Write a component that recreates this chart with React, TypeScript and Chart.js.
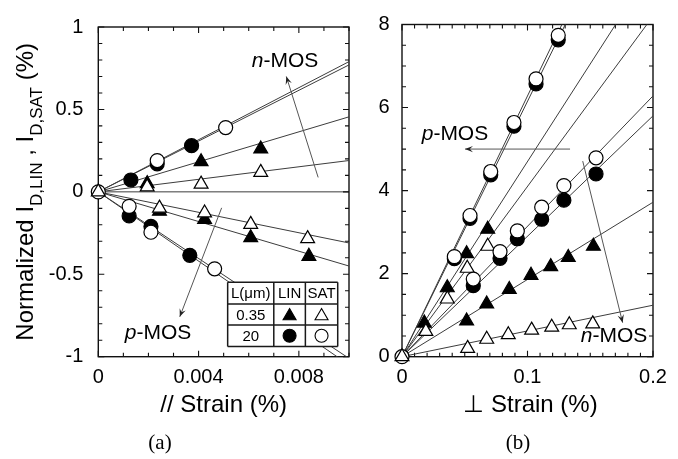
import React, { useEffect, useRef } from 'react';
import { Chart, registerables } from 'chart.js';

Chart.register(...registerables);

type P = [number, number];

const FONT = "'Liberation Sans', Arial, Helvetica, sans-serif";
const SERIF = "'Liberation Serif', 'Times New Roman', serif";

// ---------------- Panel (a): parallel strain ----------------
const aXRange: P = [0, 0.01];
const aYRange: P = [-1, 1];
const aXTickValues = [0, 0.004, 0.008];
const aXTickLabels = ['0', '0.004', '0.008'];
const aYTickValues = [-1, -0.5, 0, 0.5, 1];
const aYTickLabels = ['-1', '-0.5', '0', '0.5', '1'];
const aXMinorStep = 0.001;
const aYMinorStep = 0.1;
const aReferenceLevels = [0];

const aOrigin: P[] = [[0, 0]];
// n-MOS (positive response)
const aNmosLinCircles: P[] = [[0.0013, 0.072], [0.00235, 0.17], [0.00372, 0.28]];
const aNmosSatCircles: P[] = [[0.00235, 0.19], [0.00508, 0.39]];
const aNmosLinTriangles: P[] = [[0.00195, 0.05], [0.0041, 0.183], [0.00648, 0.26]];
const aNmosSatTriangles: P[] = [[0.00195, 0.03], [0.0041, 0.047], [0.00648, 0.118]];
// p-MOS (negative response)
const aPmosLinCircles: P[] = [[0.00123, -0.146], [0.0021, -0.21], [0.00365, -0.385]];
const aPmosSatCircles: P[] = [[0.00123, -0.088], [0.0021, -0.245], [0.00464, -0.467]];
const aPmosLinTriangles: P[] = [[0.00244, -0.117], [0.00424, -0.167], [0.00608, -0.278], [0.0084, -0.391]];
const aPmosSatTriangles: P[] = [[0.00244, -0.099], [0.00424, -0.128], [0.00608, -0.197], [0.00835, -0.284]];
// fitted slopes (% per % strain), lines from the origin
const aFitSlopes = [79, 77, 45.5, 19, -31, -45, -101, -105];

const aArrowN: P[] = [[0.00877, 0.0875], [0.0075, 0.7]];
const aArrowP: P[] = [[0.00492, -0.097], [0.00325, -0.758]];
const aLabelN: P = [0.00745, 0.79];
const aLabelP: P = [0.00238, -0.856];

const aTableColEdges = [0.00516, 0.007, 0.00826, 0.00955];
const aTableRowEdges = [-0.548, -0.681, -0.807, -0.938];
const aTableHeader = ['L(\u03bcm)', 'LIN', 'SAT'];
const aTableRowLabels = ['0.35', '20'];

const aXTitle = '// Strain (%)';
const aYTitleParts: [string, boolean][] = [
  ['Normalized I', false],
  ['D,LIN', true],
  [' , I', false],
  ['D,SAT', true],
  [' (%)', false],
];
const aCaption = '(a)';

// ---------------- Panel (b): perpendicular strain ----------------
const bXRange: P = [0, 0.2];
const bYRange: P = [0, 8];
const bXTickValues = [0, 0.1, 0.2];
const bXTickLabels = ['0', '0.1', '0.2'];
const bYTickValues = [0, 2, 4, 6, 8];
const bYTickLabels = ['0', '2', '4', '6', '8'];
const bXMinorStep = 0.01;
const bYMinorStep = 0.5;

const bOrigin: P[] = [[0, 0]];
// p-MOS
const bPmosSatCircles: P[] = [[0.0417, 2.41], [0.0542, 3.4], [0.0707, 4.46], [0.0892, 5.64], [0.1068, 6.69], [0.1245, 7.74]];
const bPmosLinCircles: P[] = [[0.0417, 2.36], [0.0542, 3.33], [0.0707, 4.38], [0.0892, 5.55], [0.1068, 6.57], [0.1245, 7.63]];
const bPmosLinTriangles: P[] = [[0.0178, 0.81], [0.0361, 1.66], [0.0515, 2.48], [0.0683, 3.07]];
const bPmosSatTriangles: P[] = [[0.019, 0.61], [0.0361, 1.39], [0.052, 2.13], [0.0683, 2.66]];
// n-MOS
const bNmosSatCircles: P[] = [[0.0568, 1.87], [0.0781, 2.53], [0.0919, 3.03], [0.1113, 3.6], [0.129, 4.12], [0.1546, 4.79]];
const bNmosLinCircles: P[] = [[0.0568, 1.71], [0.0781, 2.37], [0.0919, 2.84], [0.1113, 3.31], [0.129, 3.77], [0.1546, 4.4]];
const bNmosLinTriangles: P[] = [[0.0515, 0.86], [0.0675, 1.27], [0.0855, 1.62], [0.1028, 1.96], [0.1185, 2.17], [0.1325, 2.39], [0.1525, 2.66]];
const bNmosSatTriangles: P[] = [[0.0523, 0.2], [0.0675, 0.42], [0.0847, 0.53], [0.1033, 0.64], [0.1193, 0.71], [0.1333, 0.77], [0.152, 0.79]];
const bFitSlopes = [62.8, 61.5, 47, 41, 31.4, 29, 18.6, 6.2];

const bArrowP: P[] = [[0.1339, 5.0], [0.0502, 5.0]];
const bArrowN: P[] = [[0.144, 4.71], [0.1758, 0.82]];
const bLabelP: P = [0.0422, 5.36];
const bLabelN: P = [0.169, 0.5];

const bXTitle = '\u22a5 Strain (%)';
const bCaption = '(b)';

// ---------------- helpers ----------------
const steps = (min: number, max: number, step: number) => {
  const n = Math.round((max - min) / step);
  return Array.from({ length: n + 1 }, (_, i) => min + i * step);
};
const near = (a: number, b: number, span: number) => Math.abs(a - b) < span * 1e-6;
const labelFor = (v: number, vals: number[], labels: string[], span: number) => {
  const i = vals.findIndex((t) => near(t, v, span));
  return i >= 0 ? labels[i] : '';
};

function makeScale(
  axis: 'x' | 'y',
  range: P,
  minorStep: number,
  vals: number[],
  labels: string[],
  fitSize: number,
  padding: number
) {
  const span = range[1] - range[0];
  const all = steps(range[0], range[1], minorStep);
  return {
    type: 'linear' as const,
    min: range[0],
    max: range[1],
    afterBuildTicks: (s: any) => {
      s.ticks = all.map((v) => ({ value: v }));
    },
    afterFit: (s: any) => {
      if (axis === 'x') s.height = fitSize;
      else s.width = fitSize;
    },
    grid: { display: false, drawTicks: false },
    border: { display: false },
    ticks: {
      autoSkip: false,
      maxRotation: 0,
      padding,
      color: '#000',
      font: { family: FONT, size: 20 },
      callback: (v: any) => labelFor(Number(v), vals, labels, span),
    },
  };
}

const pts = (arr: P[]) => arr.map(([x, y]) => ({ x, y }));

function markerDs(arr: P[], style: 'circle' | 'triangle', filled: boolean, order: number) {
  return {
    data: pts(arr),
    showLine: false,
    pointStyle: style,
    pointRadius: style === 'circle' ? 7 : 8,
    pointHoverRadius: style === 'circle' ? 7 : 8,
    pointBackgroundColor: filled ? '#000' : '#fff',
    pointBorderColor: '#000',
    pointBorderWidth: 1.2,
    clip: false as any,
    order,
  };
}

function fitDs(slope: number, xmax: number) {
  return {
    data: [
      { x: 0, y: 0 },
      { x: xmax, y: slope * xmax },
    ],
    showLine: true,
    pointRadius: 0,
    pointHoverRadius: 0,
    borderColor: '#3c3c3c',
    borderWidth: 1,
    fill: false,
    tension: 0,
    order: 10,
  };
}

function drawFrame(chart: any, xVals: number[], yVals: number[], refLevels: number[]) {
  const { ctx, chartArea: a, scales } = chart;
  const x = scales.x;
  const y = scales.y;
  const xs = x.max - x.min;
  const ys = y.max - y.min;
  ctx.save();
  ctx.strokeStyle = '#3c3c3c';
  ctx.lineWidth = 1;
  for (const r of refLevels) {
    const py = y.getPixelForValue(r);
    ctx.beginPath();
    ctx.moveTo(a.left, py);
    ctx.lineTo(a.right, py);
    ctx.stroke();
  }
  ctx.strokeStyle = '#111';
  ctx.lineWidth = 1.1;
  ctx.beginPath();
  for (const t of x.ticks) {
    const px = x.getPixelForValue(t.value);
    const len = xVals.some((v) => near(v, t.value, xs)) ? 6 : 4;
    ctx.moveTo(px, a.bottom);
    ctx.lineTo(px, a.bottom - len);
    ctx.moveTo(px, a.top);
    ctx.lineTo(px, a.top + len);
  }
  for (const t of y.ticks) {
    const py = y.getPixelForValue(t.value);
    const len = yVals.some((v) => near(v, t.value, ys)) ? 6 : 4;
    ctx.moveTo(a.left, py);
    ctx.lineTo(a.left + len, py);
    ctx.moveTo(a.right, py);
    ctx.lineTo(a.right - len, py);
  }
  ctx.stroke();
  ctx.lineWidth = 1.4;
  ctx.strokeRect(a.left, a.top, a.right - a.left, a.bottom - a.top);
  ctx.restore();
}

function drawArrow(chart: any, arrow: P[]) {
  const { ctx, scales } = chart;
  const x1 = scales.x.getPixelForValue(arrow[0][0]);
  const y1 = scales.y.getPixelForValue(arrow[0][1]);
  const x2 = scales.x.getPixelForValue(arrow[1][0]);
  const y2 = scales.y.getPixelForValue(arrow[1][1]);
  const ang = Math.atan2(y2 - y1, x2 - x1);
  ctx.save();
  ctx.strokeStyle = '#555';
  ctx.fillStyle = '#222';
  ctx.lineWidth = 1;
  ctx.beginPath();
  ctx.moveTo(x1, y1);
  ctx.lineTo(x2, y2);
  ctx.stroke();
  const L = 8;
  const W = 3.2;
  ctx.beginPath();
  ctx.moveTo(x2, y2);
  ctx.lineTo(x2 - L * Math.cos(ang) + W * Math.sin(ang), y2 - L * Math.sin(ang) - W * Math.cos(ang));
  ctx.lineTo(x2 - L * 0.6 * Math.cos(ang), y2 - L * 0.6 * Math.sin(ang));
  ctx.lineTo(x2 - L * Math.cos(ang) - W * Math.sin(ang), y2 - L * Math.sin(ang) + W * Math.cos(ang));
  ctx.closePath();
  ctx.fill();
  ctx.restore();
}

function drawMosLabel(chart: any, pos: P, italic: string, rest: string) {
  const { ctx, scales } = chart;
  const cx = scales.x.getPixelForValue(pos[0]);
  const cy = scales.y.getPixelForValue(pos[1]);
  ctx.save();
  ctx.fillStyle = '#000';
  ctx.textBaseline = 'middle';
  ctx.textAlign = 'left';
  ctx.font = `italic 21px ${FONT}`;
  const w1 = ctx.measureText(italic).width;
  ctx.font = `21px ${FONT}`;
  const w2 = ctx.measureText(rest).width;
  let x = cx - (w1 + w2) / 2;
  ctx.font = `italic 21px ${FONT}`;
  ctx.fillText(italic, x, cy);
  ctx.font = `21px ${FONT}`;
  ctx.fillText(rest, x + w1, cy);
  ctx.restore();
}

function drawMarker(ctx: CanvasRenderingContext2D, style: string, filled: boolean, x: number, y: number, r: number) {
  ctx.beginPath();
  if (style === 'circle') {
    ctx.arc(x, y, r, 0, Math.PI * 2);
  } else {
    for (let i = 0; i < 3; i++) {
      const ang = (i * 2 * Math.PI) / 3;
      const px = x + Math.sin(ang) * r;
      const py = y - Math.cos(ang) * r;
      if (i === 0) ctx.moveTo(px, py);
      else ctx.lineTo(px, py);
    }
    ctx.closePath();
  }
  ctx.fillStyle = filled ? '#000' : '#fff';
  ctx.fill();
  ctx.strokeStyle = '#000';
  ctx.lineWidth = 1.1;
  ctx.stroke();
}

function drawTable(chart: any) {
  const { ctx, scales } = chart;
  const xs = aTableColEdges.map((v) => scales.x.getPixelForValue(v));
  const ys = aTableRowEdges.map((v) => scales.y.getPixelForValue(v));
  ctx.save();
  ctx.fillStyle = '#fff';
  ctx.fillRect(xs[0], ys[0], xs[3] - xs[0], ys[3] - ys[0]);
  ctx.strokeStyle = '#1a1a1a';
  ctx.lineWidth = 1.5;
  ctx.beginPath();
  for (const x of xs) {
    ctx.moveTo(x, ys[0]);
    ctx.lineTo(x, ys[3]);
  }
  for (const y of ys) {
    ctx.moveTo(xs[0], y);
    ctx.lineTo(xs[3], y);
  }
  ctx.stroke();
  ctx.fillStyle = '#000';
  ctx.font = `15px ${FONT}`;
  ctx.textAlign = 'center';
  ctx.textBaseline = 'middle';
  const cxs = [0, 1, 2].map((i) => (xs[i] + xs[i + 1]) / 2);
  const cys = [0, 1, 2].map((i) => (ys[i] + ys[i + 1]) / 2);
  aTableHeader.forEach((t, i) => ctx.fillText(t, cxs[i], cys[0] + 1));
  aTableRowLabels.forEach((t, i) => {
    ctx.fillStyle = '#000';
    ctx.fillText(t, cxs[0], cys[i + 1] + 1);
  });
  drawMarker(ctx, 'triangle', true, cxs[1], cys[1] + 1.5, 7.5);
  drawMarker(ctx, 'triangle', false, cxs[2], cys[1] + 1.5, 7.5);
  drawMarker(ctx, 'circle', true, cxs[1], cys[2], 6.5);
  drawMarker(ctx, 'circle', false, cxs[2], cys[2], 6.5);
  ctx.restore();
}

function drawXTitleAndCaption(chart: any, title: string, dx: number, caption: string, capX: number) {
  const { ctx, chartArea: a } = chart;
  ctx.save();
  ctx.fillStyle = '#000';
  ctx.textAlign = 'center';
  ctx.textBaseline = 'middle';
  ctx.font = `24px ${FONT}`;
  ctx.fillText(title, (a.left + a.right) / 2 + dx, a.bottom + 49);
  ctx.font = `21px ${SERIF}`;
  ctx.fillText(caption, capX, a.bottom + 87);
  ctx.restore();
}

function drawYTitle(chart: any) {
  const { ctx, chartArea: a } = chart;
  const cy = (a.top + a.bottom) / 2;
  ctx.save();
  ctx.translate(33, cy);
  ctx.rotate(-Math.PI / 2);
  ctx.fillStyle = '#000';
  ctx.textAlign = 'left';
  ctx.textBaseline = 'alphabetic';
  const fontOf = (sub: boolean) => `${sub ? 17 : 24}px ${FONT}`;
  let total = 0;
  for (const [t, sub] of aYTitleParts) {
    ctx.font = fontOf(sub);
    total += ctx.measureText(t).width;
  }
  let x = -total / 2;
  for (const [t, sub] of aYTitleParts) {
    ctx.font = fontOf(sub);
    ctx.fillText(t, x, sub ? 9 : 0);
    x += ctx.measureText(t).width;
  }
  ctx.restore();
}

function baseOptions(padding: any, scales: any, plugins: any) {
  return {
    animation: false as const,
    responsive: false,
    maintainAspectRatio: false,
    devicePixelRatio: 1,
    events: [] as any[],
    layout: { padding },
    plugins: { legend: { display: false }, tooltip: { enabled: false }, ...plugins },
    scales,
  };
}

function configA(): any {
  const xmax = aXRange[1];
  return {
    type: 'scatter',
    data: {
      datasets: [
        ...aFitSlopes.map((s) => fitDs(s, xmax)),
        markerDs(aNmosLinCircles, 'circle', true, 5),
        markerDs(aPmosLinCircles, 'circle', true, 5),
        markerDs(aNmosLinTriangles, 'triangle', true, 5),
        markerDs(aPmosLinTriangles, 'triangle', true, 5),
        markerDs(aNmosSatCircles, 'circle', false, 2),
        markerDs(aPmosSatCircles, 'circle', false, 2),
        markerDs(aNmosSatTriangles, 'triangle', false, 2),
        markerDs(aPmosSatTriangles, 'triangle', false, 2),
        markerDs(aOrigin, 'circle', false, 1),
        markerDs(aOrigin, 'triangle', false, 0),
      ],
    },
    options: baseOptions(
      { left: 0, top: 12.5, right: 11, bottom: 0 },
      {
        x: makeScale('x', aXRange, aXMinorStep, aXTickValues, aXTickLabels, 102.3, 9),
        y: makeScale('y', aYRange, aYMinorStep, aYTickValues, aYTickLabels, 98.3, 15),
      },
      {}
    ),
    plugins: [
      {
        id: 'frameA',
        beforeDatasetsDraw: (c: any) => drawFrame(c, aXTickValues, aYTickValues, aReferenceLevels),
        afterDatasetsDraw: (c: any) => {
          drawArrow(c, aArrowN);
          drawArrow(c, aArrowP);
          drawMosLabel(c, aLabelN, 'n', '-MOS');
          drawMosLabel(c, aLabelP, 'p', '-MOS');
          drawTable(c);
          drawXTitleAndCaption(c, aXTitle, 0, aCaption, 160);
          drawYTitle(c);
        },
      },
    ],
  };
}

function configB(): any {
  const xmax = bXRange[1];
  return {
    type: 'scatter',
    data: {
      datasets: [
        ...bFitSlopes.map((s) => fitDs(s, xmax)),
        markerDs(bPmosLinCircles, 'circle', true, 5),
        markerDs(bNmosLinCircles, 'circle', true, 5),
        markerDs(bPmosLinTriangles, 'triangle', true, 5),
        markerDs(bNmosLinTriangles, 'triangle', true, 5),
        markerDs(bPmosSatCircles, 'circle', false, 2),
        markerDs(bNmosSatCircles, 'circle', false, 2),
        markerDs(bPmosSatTriangles, 'triangle', false, 2),
        markerDs(bNmosSatTriangles, 'triangle', false, 2),
        markerDs(bOrigin, 'circle', false, 1),
        markerDs(bOrigin, 'triangle', false, 0),
      ],
    },
    options: baseOptions(
      { left: 0, top: 14, right: 25, bottom: 0 },
      {
        x: makeScale('x', bXRange, bXMinorStep, bXTickValues, bXTickLabels, 102.3, 9),
        y: makeScale('y', bYRange, bYMinorStep, bYTickValues, bYTickLabels, 42, 12.5),
      },
      {}
    ),
    plugins: [
      {
        id: 'frameB',
        beforeDatasetsDraw: (c: any) => drawFrame(c, bXTickValues, bYTickValues, []),
        afterDatasetsDraw: (c: any) => {
          drawArrow(c, bArrowP);
          drawArrow(c, bArrowN);
          drawMosLabel(c, bLabelP, 'p', '-MOS');
          drawMosLabel(c, bLabelN, 'n', '-MOS');
          drawXTitleAndCaption(c, bXTitle, 3, bCaption, 158);
        },
      },
    ],
  };
}

export default function App() {
  const refA = useRef<HTMLCanvasElement>(null);
  const refB = useRef<HTMLCanvasElement>(null);
  useEffect(() => {
    if (!refA.current || !refB.current) return;
    const ca = new Chart(refA.current, configA());
    const cb = new Chart(refB.current, configB());
    return () => {
      ca.destroy();
      cb.destroy();
    };
  }, []);
  return (
    <div style={{ position: 'fixed', left: 0, top: 0, width: 678, height: 459, background: '#fff' }}>
      <canvas
        ref={refA}
        width={360}
        height={459}
        style={{ position: 'absolute', left: 0, top: 0, width: 360, height: 459 }}
      />
      <canvas
        ref={refB}
        width={318}
        height={459}
        style={{ position: 'absolute', left: 360, top: 0, width: 318, height: 459 }}
      />
    </div>
  );
}
